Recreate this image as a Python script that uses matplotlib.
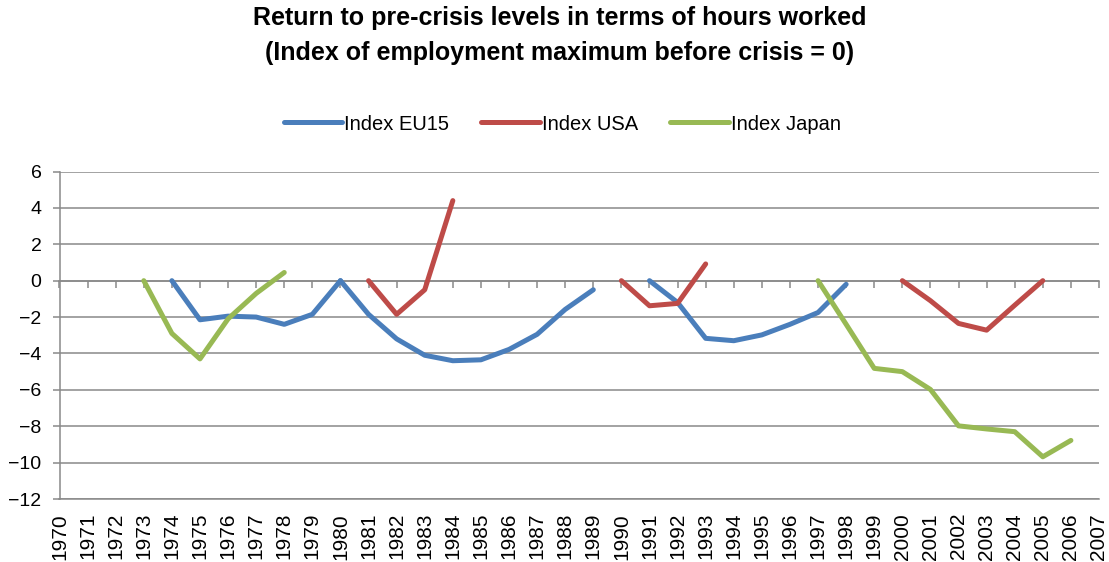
import matplotlib.pyplot as plt
import numpy as np

plt.rcParams['font.family'] = ['Liberation Sans', 'DejaVu Sans']

# years on the category axis
years = list(range(1970, 2008))

# EU15 episodes (year, index)
eu_years_1 = [1974, 1975, 1976, 1977, 1978, 1979, 1980]
eu_vals_1 = [0, -2.15, -1.95, -2.0, -2.4, -1.85, 0]
eu_years_2 = [1980, 1981, 1982, 1983, 1984, 1985, 1986, 1987, 1988, 1989]
eu_vals_2 = [0, -1.85, -3.2, -4.1, -4.4, -4.35, -3.78, -2.95, -1.58, -0.5]
eu_years_3 = [1991, 1992, 1993, 1994, 1995, 1996, 1997, 1998]
eu_vals_3 = [0, -1.2, -3.17, -3.3, -2.98, -2.4, -1.75, -0.2]

# USA episodes
us_years_1 = [1981, 1982, 1983, 1984]
us_vals_1 = [0, -1.85, -0.5, 4.4]
us_years_2 = [1990, 1991, 1992, 1993]
us_vals_2 = [0, -1.38, -1.25, 0.92]
us_years_3 = [2000, 2001, 2002, 2003, 2004, 2005]
us_vals_3 = [0, -1.1, -2.35, -2.72, -1.35, 0]

# Japan episodes
jp_years_1 = [1973, 1974, 1975, 1976, 1977, 1978]
jp_vals_1 = [0, -2.9, -4.3, -2.1, -0.7, 0.45]
jp_years_2 = [1997, 1998, 1999, 2000, 2001, 2002, 2003, 2004, 2005, 2006]
jp_vals_2 = [0, -2.4, -4.82, -5.0, -5.98, -7.98, -8.15, -8.3, -9.68, -8.78]

c_eu = '#4A7EBB'
c_us = '#BE4B48'
c_jp = '#98B954'
grid_c = '#898989'

fig = plt.figure(figsize=(11.09, 5.62), dpi=100)
ax = fig.add_axes([59.5 / 1109, 1 - 499 / 562, (1099 - 59.5) / 1109, (499 - 171.5) / 562])

lw = 3.6
ax.plot(eu_years_1, eu_vals_1, color=c_eu, lw=lw, solid_capstyle='round', label='Index EU15')
ax.plot(eu_years_2, eu_vals_2, color=c_eu, lw=lw, solid_capstyle='round')
ax.plot(eu_years_3, eu_vals_3, color=c_eu, lw=lw, solid_capstyle='round')
ax.plot(us_years_1, us_vals_1, color=c_us, lw=lw, solid_capstyle='round', label='Index USA')
ax.plot(us_years_2, us_vals_2, color=c_us, lw=lw, solid_capstyle='round')
ax.plot(us_years_3, us_vals_3, color=c_us, lw=lw, solid_capstyle='round')
ax.plot(jp_years_1, jp_vals_1, color=c_jp, lw=lw, solid_capstyle='round', label='Index Japan')
ax.plot(jp_years_2, jp_vals_2, color=c_jp, lw=lw, solid_capstyle='round')

ax.set_xlim(1970, 2007)
ax.set_ylim(-12, 6)
ax.set_yticks(np.arange(-12, 7, 2))
ax.set_xticks(years)
ax.set_xticklabels([str(y) for y in years], rotation=90, fontsize=15)
ax.tick_params(axis='x', length=0, pad=10)
ax.tick_params(axis='y', length=5, width=1.1, color=grid_c, labelsize=14, pad=8)
ax.yaxis.grid(True, color=grid_c, lw=1.1)
ax.set_axisbelow(True)
for s in ['top', 'right']:
    ax.spines[s].set_visible(False)
for s in ['left', 'bottom']:
    ax.spines[s].set_color(grid_c)
    ax.spines[s].set_linewidth(1.1)

# zero line with tick marks at each year
sec = ax.secondary_xaxis(12 / 18)
sec.set_alignment('bottom')
sec.set_xticks(years)
sec.tick_params(axis='x', direction='out', length=5, width=1.1, color=grid_c, labelbottom=False, labeltop=False)
sec.spines['bottom'].set_color(grid_c)
sec.spines['bottom'].set_linewidth(1.1)
sec.set_zorder(1)

fig.text(0.505, 1 - 18 / 562, 'Return to pre-crisis levels in terms of hours worked',
         ha='center', va='center', fontsize=18, fontweight='bold')
fig.text(0.505, 1 - 53 / 562, '(Index of employment maximum before crisis = 0)',
         ha='center', va='center', fontsize=18, fontweight='bold')

fig.legend(loc='center', bbox_to_anchor=(0.507, 1 - 124 / 562), ncol=3, frameon=False,
           fontsize=14.5, handlelength=2.9, handletextpad=0.1, columnspacing=1.6)

plt.savefig('out.png', dpi=100)
